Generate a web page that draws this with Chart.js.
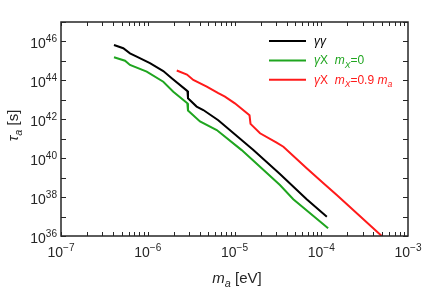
<!DOCTYPE html>
<html>
<head>
<meta charset="utf-8">
<script src="https://cdn.jsdelivr.net/npm/chart.js@4"></script>
<style>
  body { margin: 0; background: #fff; }
</style>
</head>
<body>
<canvas id="tauChart" width="424" height="289"></canvas>
<script>
// axion mass [eV] and lifetime [s]
const massGG = [4.08e-7, 5.22e-7, 6.24e-7, 7.46e-7, 1.06e-6, 1.51e-6, 1.89e-6, 2.87e-6, 2.91e-6, 3.66e-6, 4.37e-6, 6.5e-6, 1.65e-5, 3.34e-5, 6.79e-5, 1.16e-4];
const tauGG  = [6.6e45, 4.5e45, 2.45e45, 1.66e45, 7.6e44, 3.0e44, 1.29e44, 2.8e43, 1.2e43, 4.5e42, 3.0e42, 8.9e41, 2.6e40, 1.55e39, 7.8e37, 9.8e36];

const massGX0 = [4.08e-7, 5.47e-7, 6.24e-7, 9.73e-7, 1.51e-6, 1.97e-6, 2.86e-6, 2.91e-6, 4.0e-6, 6.24e-6, 1.21e-5, 3.34e-5, 4.76e-5, 1.2e-4];
const tauGX0  = [1.55e45, 1.02e45, 6.2e44, 2.8e44, 8.5e43, 2.6e43, 6.6e42, 2.8e42, 7.8e41, 2.8e41, 2.6e40, 4.2e38, 7.8e37, 2.5e36];

const massGX09 = [2.16e-6, 2.83e-6, 3.35e-6, 4.79e-6, 6.5e-6, 7.76e-6, 1.01e-5, 1.49e-5, 1.53e-5, 1.97e-5, 3.06e-5, 3.66e-5, 6.79e-5, 1.06e-4, 1.51e-4, 4.98e-4];
const tauGX09  = [3.2e44, 2.0e44, 1.05e44, 4.8e43, 2.2e43, 1.45e43, 6.6e42, 1.6e42, 5.8e41, 1.9e41, 6.3e40, 3.9e40, 3.0e39, 5.1e38, 1.29e38, 1.0e36];

const xTickExps = [-7, -6, -5, -4, -3];
const yTickExps = [36, 38, 40, 42, 44, 46];

const GREEN = '#1fa51f';
const RED = '#ff1a1a';
const INK = '#262626';

const toPoints = (xs, ys) => xs.map((x, i) => ({ x: x, y: ys[i] }));

// draws a run of text pieces; piece = {t, i: italic, s: 'sub'|'sup'}
function drawRich(ctx, x, y, parts, size, measureOnly) {
  let cx = x;
  parts.forEach(p => {
    const fs = p.s ? size * 0.72 : size;
    ctx.font = (p.i ? 'italic ' : '') + fs + 'px "Liberation Sans", Arial, sans-serif';
    let dy = 0;
    if (p.s === 'sub') dy = size * 0.28;
    if (p.s === 'sup') dy = -size * 0.45;
    if (!measureOnly) ctx.fillText(p.t, cx, y + dy);
    cx += ctx.measureText(p.t).width;
  });
  return cx - x;
}

const framePlugin = {
  id: 'framePlugin',
  afterDraw(chart) {
    const ctx = chart.ctx;
    const a = chart.chartArea;
    const xs = chart.scales.x;
    const ys = chart.scales.y;
    ctx.save();
    ctx.textAlign = 'left';
    ctx.textBaseline = 'alphabetic';

    // frame
    ctx.strokeStyle = INK;
    ctx.lineWidth = 1.5;
    ctx.strokeRect(a.left, a.top, a.right - a.left, a.bottom - a.top);

    // ticks
    ctx.lineWidth = 1;
    ctx.beginPath();
    for (let e = -7; e < -3; e++) {
      for (let k = 1; k <= 9; k++) {
        const px = Math.round(xs.getPixelForValue(k * Math.pow(10, e))) + 0.5;
        ctx.moveTo(px, a.bottom); ctx.lineTo(px, a.bottom - 4);
        ctx.moveTo(px, a.top); ctx.lineTo(px, a.top + 4);
      }
    }
    for (let e = 36; e <= 47; e++) {
      const py = Math.round(ys.getPixelForValue(Math.pow(10, e))) + 0.5;
      ctx.moveTo(a.left, py); ctx.lineTo(a.left + 5, py);
      ctx.moveTo(a.right, py); ctx.lineTo(a.right - 5, py);
    }
    ctx.stroke();

    // tick labels
    ctx.fillStyle = INK;
    xTickExps.forEach(e => {
      const px = xs.getPixelForValue(Math.pow(10, e));
      const parts = [{ t: '10' }, { t: '\u2212' + Math.abs(e), s: 'sup' }];
      const w = drawRich(ctx, 0, 0, parts, 14, true);
      drawRich(ctx, px - w / 2, 257, parts, 14);
    });
    yTickExps.forEach(e => {
      const py = ys.getPixelForValue(Math.pow(10, e));
      const parts = [{ t: '10' }, { t: String(e), s: 'sup' }];
      const w = drawRich(ctx, 0, 0, parts, 14, true);
      drawRich(ctx, 57 - w, py + 7, parts, 14);
    });

    // axis titles
    const xt = [{ t: 'm', i: true }, { t: 'a', i: true, s: 'sub' }, { t: ' [eV]' }];
    const xw = drawRich(ctx, 0, 0, xt, 15, true);
    drawRich(ctx, 237 - xw / 2, 283, xt, 15);

    const yt = [{ t: '\u03c4', i: true }, { t: 'a', i: true, s: 'sub' }, { t: ' [s]' }];
    const yw = drawRich(ctx, 0, 0, yt, 15, true);
    ctx.save();
    ctx.translate(17.5, 125.5);
    ctx.rotate(-Math.PI / 2);
    drawRich(ctx, -yw / 2, 0, yt, 15);
    ctx.restore();

    // legend
    const legend = [
      { c: '#000', parts: [{ t: '\u03b3\u03b3', i: true }] },
      { c: GREEN, parts: [{ t: '\u03b3', i: true }, { t: 'X  ' }, { t: 'm', i: true }, { t: 'X', i: true, s: 'sub' }, { t: '=0' }] },
      { c: RED, parts: [{ t: '\u03b3', i: true }, { t: 'X  ' }, { t: 'm', i: true }, { t: 'X', i: true, s: 'sub' }, { t: '=0.9 ' }, { t: 'm', i: true }, { t: 'a', i: true, s: 'sub' }] }
    ];
    legend.forEach((item, i) => {
      const ly = 41 + i * 19.4;
      ctx.strokeStyle = item.c;
      ctx.lineWidth = 2;
      ctx.beginPath();
      ctx.moveTo(269, ly); ctx.lineTo(306, ly);
      ctx.stroke();
      ctx.fillStyle = item.c;
      drawRich(ctx, 314, ly + 4, item.parts, 12);
    });
    ctx.restore();
  }
};

new Chart(document.getElementById('tauChart'), {
  type: 'line',
  data: {
    datasets: [
      { label: 'gg', data: toPoints(massGG, tauGG), borderColor: '#000' },
      { label: 'gX0', data: toPoints(massGX0, tauGX0), borderColor: GREEN },
      { label: 'gX09', data: toPoints(massGX09, tauGX09), borderColor: RED }
    ]
  },
  options: {
    responsive: false,
    animation: false,
    events: [],
    datasets: {
      line: { borderWidth: 2, pointRadius: 0, tension: 0, fill: false }
    },
    layout: { padding: { left: 61, top: 22, right: 16, bottom: 53 } },
    plugins: {
      legend: { display: false },
      tooltip: { enabled: false }
    },
    scales: {
      x: { type: 'logarithmic', min: 1e-7, max: 1e-3, display: false },
      y: { type: 'logarithmic', min: 1e36, max: 1e47, display: false }
    }
  },
  plugins: [framePlugin]
});
</script>
</body>
</html>
